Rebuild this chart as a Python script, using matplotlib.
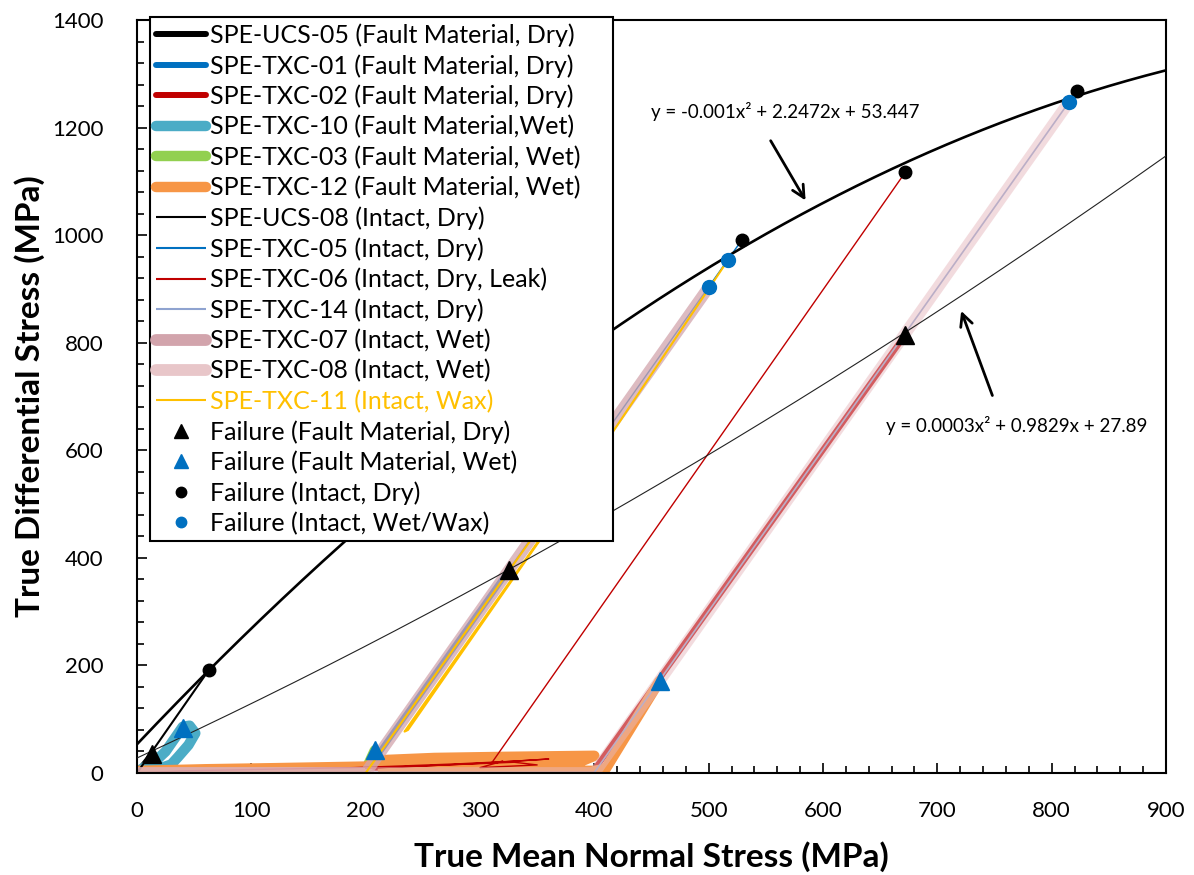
import matplotlib
matplotlib.use("Agg")
import matplotlib.pyplot as plt
import numpy as np
from matplotlib.lines import Line2D
from matplotlib.ticker import MultipleLocator

plt.rcParams['font.family'] = ['Lato', 'DejaVu Sans']

# ---------------- data (MPa) ----------------
ucs05_x = [0, 6, 13]
ucs05_y = [0, 16, 35]
txc01_x = [0, 100, 200, 325]
txc01_y = [0, 2, 2, 377]
txc02_x = [0, 60, 120, 200, 260, 330, 400, 672]
txc02_y = [0, 6, 8, 10, 9, 8, 6, 815]
txc10_x = [2, 15, 25, 40, 46, 51, 45, 36, 30, 22]
txc10_y = [5, 20, 40, 86, 88, 74, 52, 30, 16, 10]
txc03_x = [0, 100, 200, 208]
txc03_y = [0, 3, 5, 42]
txc12_x = [0, 60, 120, 200, 215, 260, 320, 400, 380, 300, 250, 215, 300, 400, 410, 457]
txc12_y = [4, 7, 9, 12, 24, 28, 30, 32, 14, 12, 9, 6, 5, 4, 8, 171]
ucs08_x = [0, 63]
ucs08_y = [0, 192]
txc05_x = [0, 200, 529]
txc05_y = [0, 1, 991]
txc06_x = [0, 40, 90, 140, 190, 230, 280, 330, 360, 300, 240, 200, 260, 330, 350, 300, 320, 310, 672]
txc06_y = [0, 4, 6, 8, 10, 13, 17, 22, 26, 18, 12, 9, 14, 20, 15, 10, 22, 18, 1117]
txc14_x = [0, 400, 822]
txc14_y = [1, 1, 1268]
txc07_x = [0, 200, 500]
txc07_y = [0, 0, 903]
txc08_x = [0, 400, 815]
txc08_y = [0, 0, 1247]
txc11_x = [0, 200, 350, 358, 234, 237, 360, 517]
txc11_y = [0, 0, 450, 452, 77, 80, 456, 954]

fail_fd_x = [13, 325, 672]
fail_fd_y = [35, 377, 815]
fail_fw_x = [40, 208, 457]
fail_fw_y = [83, 42, 171]
fail_id_x = [63, 529, 672, 822]
fail_id_y = [192, 991, 1117, 1268]
fail_iw_x = [500, 517, 815]
fail_iw_y = [903, 954, 1247]

# trendline coefficients (quadratic, highest power first)
fit_upper = [-0.00095, 2.2472, 53.447]
fit_lower = [0.00029, 0.9829, 27.89]
fit_upper_label = "y = -0.001x\u00b2 + 2.2472x + 53.447"
fit_lower_label = "y = 0.0003x\u00b2 + 0.9829x + 27.89"

labels = [
    "SPE-UCS-05 (Fault Material, Dry)",
    "SPE-TXC-01 (Fault Material, Dry)",
    "SPE-TXC-02 (Fault Material, Dry)",
    "SPE-TXC-10 (Fault Material,Wet)",
    "SPE-TXC-03 (Fault Material, Wet)",
    "SPE-TXC-12 (Fault Material, Wet)",
    "SPE-UCS-08 (Intact, Dry)",
    "SPE-TXC-05 (Intact, Dry)",
    "SPE-TXC-06 (Intact, Dry, Leak)",
    "SPE-TXC-14 (Intact, Dry)",
    "SPE-TXC-07 (Intact, Wet)",
    "SPE-TXC-08 (Intact, Wet)",
    "SPE-TXC-11 (Intact, Wax)",
    "Failure (Fault Material, Dry)",
    "Failure (Fault Material, Wet)",
    "Failure (Intact, Dry)",
    "Failure (Intact, Wet/Wax)",
]

series = [
    (ucs05_x, ucs05_y, '#000000', 4.3, 1.0),
    (txc01_x, txc01_y, '#0070C0', 4.3, 1.0),
    (txc02_x, txc02_y, '#C00000', 4.3, 1.0),
    (txc10_x, txc10_y, '#4BACC6', 7.5, 1.0),
    (txc03_x, txc03_y, '#92D050', 7.5, 1.0),
    (txc12_x, txc12_y, '#F79646', 7.5, 1.0),
    (ucs08_x, ucs08_y, '#000000', 1.5, 1.0),
    (txc05_x, txc05_y, '#0070C0', 1.0, 1.0),
    (txc06_x, txc06_y, '#C00000', 1.0, 1.0),
    (txc14_x, txc14_y, '#8FA3D0', 1.2, 1.0),
    (txc07_x, txc07_y, '#D2A4AC', 8.5, 0.75),
    (txc08_x, txc08_y, '#E6B9BE', 8.5, 0.5),
    (txc11_x, txc11_y, '#FFC000', 1.5, 1.0),
]
legend_colors = {10: '#D2A4AC', 11: '#E8C6C9'}

fig = plt.figure(figsize=(11.94, 8.75), dpi=100)
ax = fig.add_axes([137/1194, 1-773/875, (1166-137)/1194, (773-20)/875])

handles = []
for i, (xs, ys, c, lw, a) in enumerate(series):
    ax.plot(xs, ys, color=c, lw=lw, alpha=a, solid_capstyle='round',
            solid_joinstyle='round', zorder=2 + i*0.01)
    handles.append(Line2D([], [], color=legend_colors.get(i, c), lw=lw if lw > 2 else 1.5,
                          solid_capstyle='round' if lw > 2 else 'butt'))

# trendlines
xx = np.linspace(0, 900, 400)
ax.plot(xx, np.polyval(fit_upper, xx), color='black', lw=1.9, zorder=3)
ax.plot(xx, np.polyval(fit_lower, xx), color='#222222', lw=0.8, zorder=3)

ms_tri = 13
ms_dot = 9
ax.plot(fail_fd_x, fail_fd_y, '^', color='black', ms=ms_tri, ls='none', zorder=4)
ax.plot(fail_fw_x, fail_fw_y, '^', color='#0070C0', ms=ms_tri, ls='none', zorder=4)
ax.plot(fail_id_x, fail_id_y, 'o', color='black', ms=ms_dot, ls='none', zorder=4)
ax.plot(fail_iw_x, fail_iw_y, 'o', color='#0070C0', ms=ms_dot+1, ls='none', zorder=4)
handles += [
    Line2D([], [], marker='^', color='black', ls='none', ms=10),
    Line2D([], [], marker='^', color='#0070C0', ls='none', ms=10),
    Line2D([], [], marker='o', color='black', ls='none', ms=7.5),
    Line2D([], [], marker='o', color='#0070C0', ls='none', ms=7.5),
]

# annotations
ax.annotate('', xy=(586, 1060), xytext=(553, 1180),
            arrowprops=dict(arrowstyle='->', lw=2, color='black', mutation_scale=22))
ax.text(567, 1229, fit_upper_label, ha='center', va='center', fontsize=13.5)
ax.annotate('', xy=(720, 864), xytext=(749, 697),
            arrowprops=dict(arrowstyle='->', lw=2, color='black', mutation_scale=22))
ax.text(769, 647, fit_lower_label, ha='center', va='center', fontsize=13.5)

ax.set_xlim(0, 900)
ax.set_ylim(0, 1400)
ax.xaxis.set_major_locator(MultipleLocator(100))
ax.xaxis.set_minor_locator(MultipleLocator(20))
ax.yaxis.set_major_locator(MultipleLocator(200))
ax.yaxis.set_minor_locator(MultipleLocator(40))
ax.tick_params(which='both', direction='in', width=1.2, color='black')
ax.tick_params(which='major', length=7, labelsize=16)
ax.tick_params(axis='x', which='major', pad=20)
ax.tick_params(axis='y', which='major', pad=24)
ax.tick_params(which='minor', length=5)
for s in ax.spines.values():
    s.set_linewidth(1.5)
    s.set_color('black')

ax.set_xlabel("True Mean Normal Stress (MPa)", fontsize=24, fontweight='bold', labelpad=15)
ax.set_ylabel("True Differential Stress (MPa)", fontsize=24, fontweight='bold', labelpad=5)

x0 = 150/1194
y1 = 1-17/875
w = (613-150)/1194
h = (541-17)/875
leg = ax.legend(handles, labels, loc='upper left', mode='expand',
                bbox_to_anchor=(x0, y1-h, w, h), bbox_transform=fig.transFigure,
                borderaxespad=0, fontsize=18, frameon=True, fancybox=False,
                edgecolor='black', framealpha=1, handlelength=2.0,
                handletextpad=0.15, labelspacing=0.283, borderpad=0.25)
leg.get_frame().set_linewidth(1.5)
leg.set_zorder(10)
leg.get_texts()[12].set_color('#FFC000')

fig.savefig('out.png', dpi=100)
